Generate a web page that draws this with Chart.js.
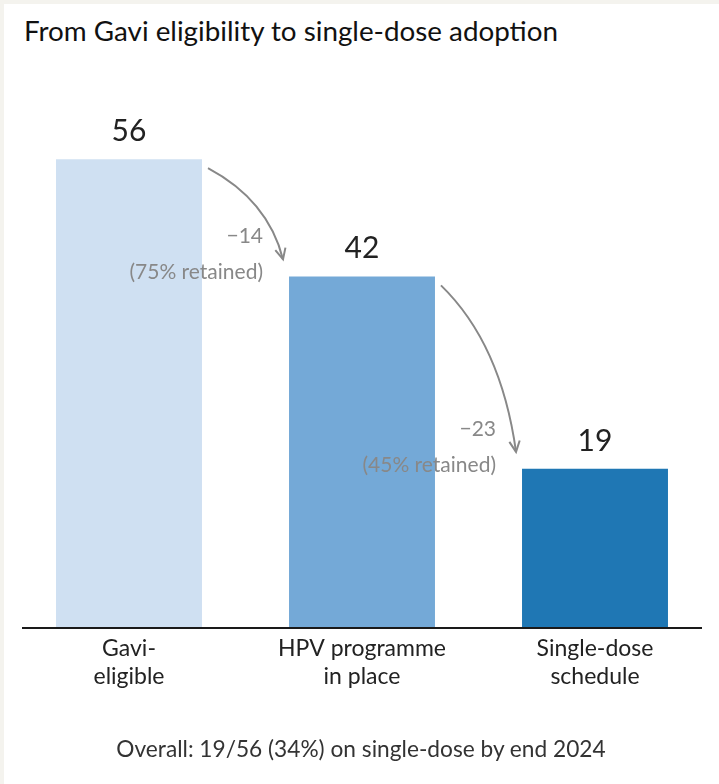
<!DOCTYPE html>
<html>
<head>
<meta charset="utf-8">
<script src="https://cdn.jsdelivr.net/npm/chart.js@4.4.1/dist/chart.umd.min.js"></script>
<style>
  html, body { margin: 0; padding: 0; background: #f4f3ee; }
  body { width: 719px; height: 784px; position: relative; overflow: hidden; font-family: Lato, sans-serif; }
  #card { position: absolute; left: 4px; top: 4px; right: 0; bottom: 0; background: #fff; }
  #chart-area { position: absolute; left: 0; top: 0; width: 719px; height: 784px; }
  h1 { position: absolute; left: 24px; top: 14px; margin: 0; font-weight: 400; font-size: 27.8px; color: #111; }
  #footer { position: absolute; left: 0; width: 722px; top: 735px; text-align: center; font-size: 22.7px; color: #333; }
</style>
</head>
<body>
<div id="card"></div>
<h1>From Gavi eligibility to single-dose adoption</h1>
<div id="chart-area"></div>
<div id="footer">Overall: 19/56 (34%) on single-dose by end 2024</div>
<script>
const stages = [["Gavi-", "eligible"], ["HPV programme", "in place"], ["Single-dose", "schedule"]];
const countries = [56, 42, 19];
const barColors = ['#cfe0f2', '#74a9d7', '#1f77b4'];
const dropLabels = ['\u221214', '\u221223'];
const retainedLabels = ['(75% retained)', '(45% retained)'];

const funnelPlugin = {
  id: 'funnel',
  afterDatasetsDraw(chart) {
    const ctx = chart.ctx;
    const area = chart.chartArea;
    const y = chart.scales.y;
    const bars = chart.getDatasetMeta(0).data;

    // baseline
    ctx.save();
    ctx.strokeStyle = '#1a1a1a';
    ctx.lineWidth = 2;
    ctx.beginPath();
    ctx.moveTo(area.left + 9.5, y.getPixelForValue(0) + 1);
    ctx.lineTo(area.right - 9.5, y.getPixelForValue(0) + 1);
    ctx.stroke();

    // value labels
    ctx.fillStyle = '#222';
    ctx.font = '30px Lato, sans-serif';
    ctx.textAlign = 'center';
    ctx.textBaseline = 'alphabetic';
    bars.forEach((b, i) => ctx.fillText(String(countries[i]), b.x, b.y - 17));

    // arrows + drop annotations
    for (let i = 0; i < bars.length - 1; i++) {
      const a = bars[i], b = bars[i + 1];
      const sx = a.x + a.width / 2 + 5, sy = a.y + 10;
      const ex = b.x - b.width / 2 - 5, ey = b.y - 16;
      const cx = sx + 0.8 * (ex - sx), cy = sy + 0.35 * (ey - sy);
      ctx.strokeStyle = '#888';
      ctx.lineWidth = 2;
      ctx.beginPath();
      ctx.moveTo(sx, sy);
      ctx.quadraticCurveTo(cx, cy, ex, ey);
      ctx.stroke();
      const ang = Math.atan2(ey - cy, ex - cx);
      const hl = 12;
      ctx.beginPath();
      ctx.moveTo(ex + hl * Math.cos(ang + Math.PI - 0.45), ey + hl * Math.sin(ang + Math.PI - 0.45));
      ctx.lineTo(ex, ey);
      ctx.lineTo(ex + hl * Math.cos(ang + Math.PI + 0.45), ey + hl * Math.sin(ang + Math.PI + 0.45));
      ctx.stroke();

      ctx.fillStyle = '#888';
      ctx.font = '21px Lato, sans-serif';
      ctx.textAlign = 'right';
      ctx.fillText(dropLabels[i], ex - 20, ey - 16);
      ctx.fillText(retainedLabels[i], ex - 20, ey + 20);
    }
    ctx.restore();
  }
};

const loadChart = function () {
  const canvas = document.createElement('canvas');
  document.getElementById('chart-area').appendChild(canvas);
  new Chart(canvas, {
    type: 'bar',
    data: {
      labels: stages,
      datasets: [{
        data: countries,
        backgroundColor: barColors,
        borderColor: '#ffffff',
        borderWidth: 1,
        categoryPercentage: 1,
        barPercentage: 0.635
      }]
    },
    options: {
      responsive: true,
      maintainAspectRatio: false,
      animation: false,
      layout: { padding: { left: 12.5, right: 7.5, top: 108, bottom: 85 } },
      plugins: { legend: { display: false }, tooltip: { enabled: false } },
      scales: {
        y: { display: false, min: 0, max: 62 },
        x: {
          grid: { display: false, drawTicks: false },
          border: { display: false },
          ticks: {
            padding: 8,
            color: '#222',
            font: { family: 'Lato, sans-serif', size: 23, lineHeight: 1.22 }
          }
        }
      }
    },
    plugins: [funnelPlugin]
  });
};

loadChart();
</script>
</body>
</html>
